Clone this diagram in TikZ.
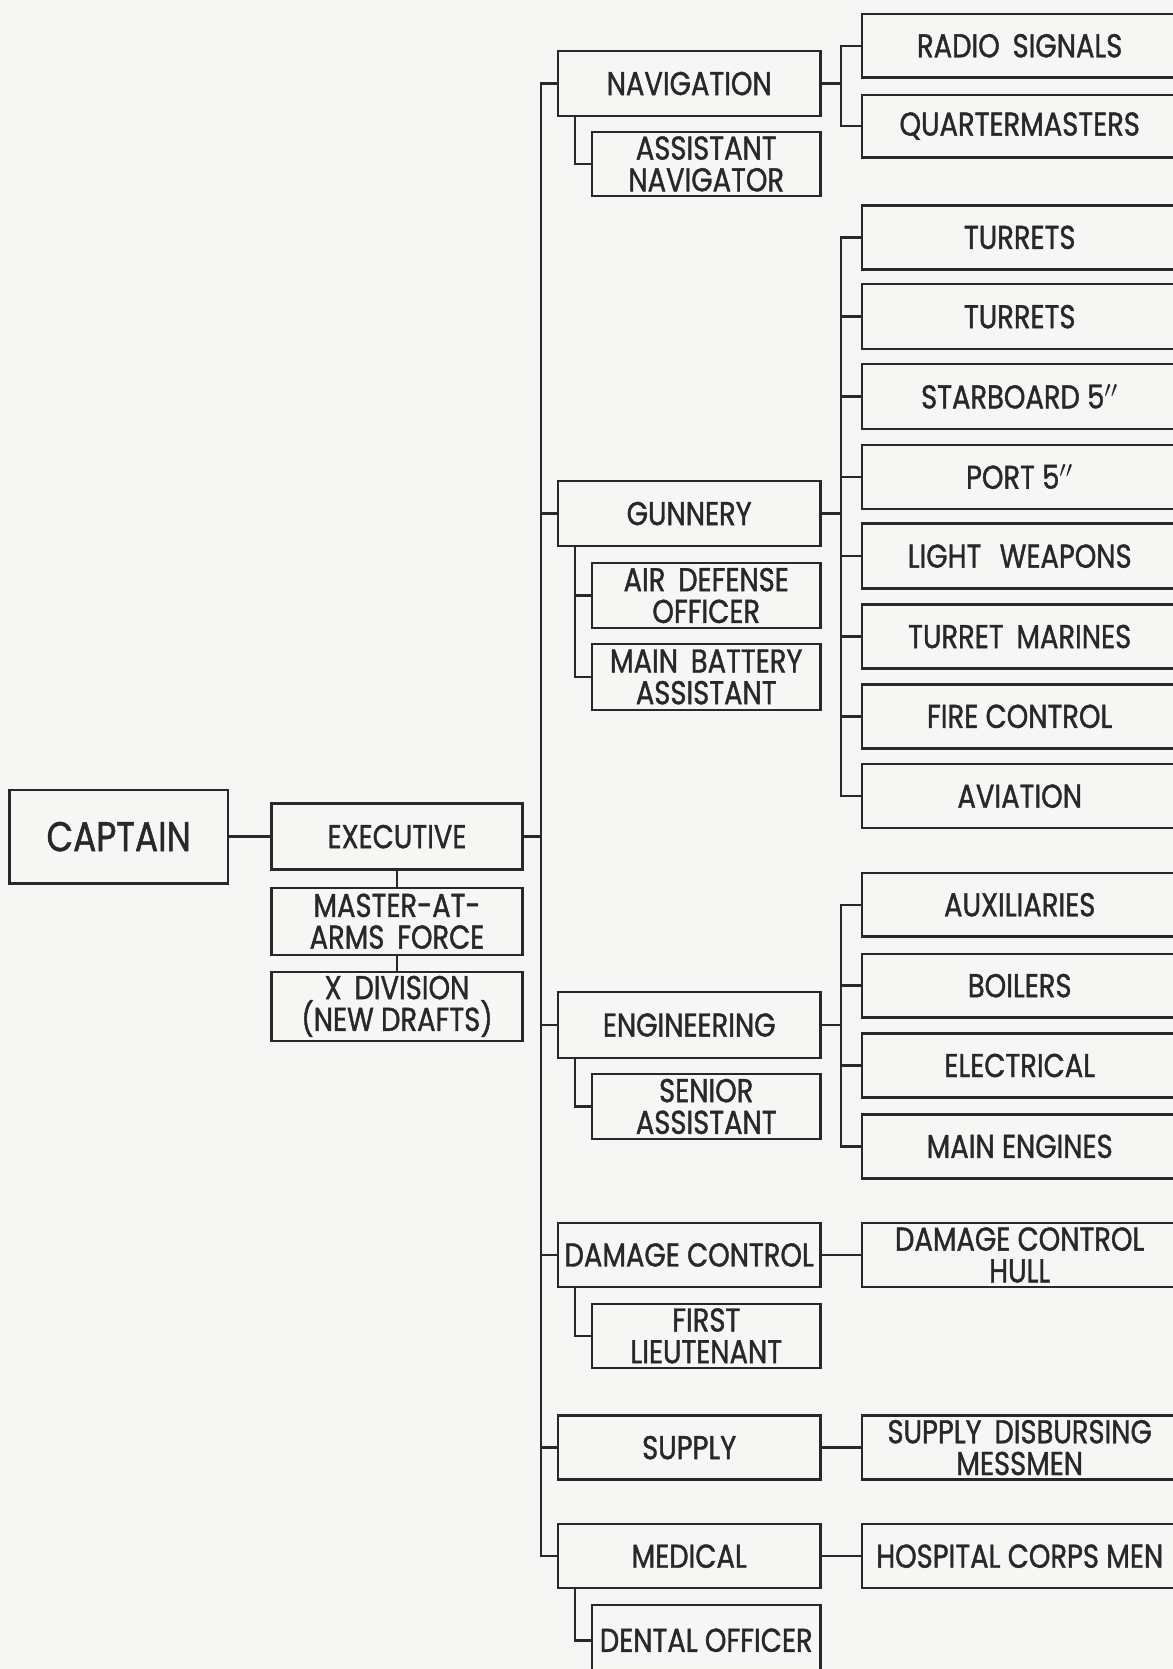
\documentclass[tikz,border=0pt]{standalone}
\usepackage{fontspec}
\setmainfont{Poppins}[FakeStretch=0.83,FakeBold=1.2]
\definecolor{ink}{RGB}{40,40,40}
\definecolor{paper}{RGB}{246,246,244}
\newcommand\bx[6]{\node[box, minimum width={(#4-#2)*0.5pt}, minimum height={(#5-#3)*0.5pt}] (#1) at ({(#2+#4)/2},{(#3+#5)/2}) {#6};}
\begin{document}
\begin{tikzpicture}[x=0.5pt,y=-0.5pt,
  box/.style={draw=ink, line width=1.15pt, inner sep=0pt, outer sep=0pt, align=center, text=ink, font=\fontsize{15.5}{14.9}\selectfont},
  conn/.style={draw=ink, line width=1.15pt}]
\useasboundingbox (0,0) rectangle (1102,1568);
\fill[paper] (0,0) rectangle (1102,1568);
\clip (0,0) rectangle (1102,1568);
% left column
\node[box, minimum width={205*0.5pt}, minimum height={88*0.5pt}, font=\fontsize{19.5}{20}\selectfont] (cap) at (111.5,786) {CAPTAIN};
\bx{exec}{255}{755}{491}{817}{EXECUTIVE}
\bx{maa}{255}{834}{491}{897}{MASTER-AT-\\ARMS\, FORCE}
\bx{xdiv}{255}{913}{491}{978}{X\, DIVISION\\(NEW DRAFTS)}
% departments
\bx{nav}{524}{48}{771}{109}{NAVIGATION}
\bx{gun}{524}{452}{771}{513}{GUNNERY}
\bx{eng}{524}{932}{771}{994}{ENGINEERING}
\bx{dmg}{524}{1149}{771}{1209}{DAMAGE CONTROL}
\bx{sup}{524}{1330}{771}{1390}{SUPPLY}
\bx{med}{524}{1432}{771}{1492}{MEDICAL}
% assistants
\bx{asnav}{556}{124}{771}{184}{ASSISTANT\\NAVIGATOR}
\bx{air}{556}{529}{771}{590}{AIR\, DEFENSE\\OFFICER}
\bx{mba}{556}{605}{771}{667}{MAIN\, BATTERY\\ASSISTANT}
\bx{sen}{556}{1009}{771}{1070}{SENIOR\\ASSISTANT}
\bx{first}{556}{1225}{771}{1285}{FIRST\\LIEUTENANT}
\bx{dental}{556}{1508}{771}{1574}{DENTAL OFFICER}
% divisions
\bx{radio}{810}{13}{1106}{73}{RADIO\, SIGNALS}
\bx{qm}{810}{89}{1106}{148}{QUARTERMASTERS}
\bx{tA}{810}{193}{1106}{253}{TURRETS}
\bx{tB}{810}{267}{1106}{328}{TURRETS}
\bx{stb}{810}{342}{1106}{403}{STARBOARD 5$''$}
\bx{port}{810}{418}{1106}{478}{PORT 5$''$}
\bx{light}{810}{492}{1106}{553}{LIGHT\,\, WEAPONS}
\bx{mar}{810}{568}{1106}{628}{TURRET\, MARINES}
\bx{fire}{810}{643}{1106}{703}{FIRE CONTROL}
\bx{avi}{810}{718}{1106}{778}{AVIATION}
\bx{aux}{810}{820}{1106}{880}{AUXILIARIES}
\bx{boil}{810}{896}{1106}{956}{BOILERS}
\bx{elec}{810}{971}{1106}{1031}{ELECTRICAL}
\bx{meng}{810}{1047}{1106}{1107}{MAIN ENGINES}
\bx{dch}{810}{1149}{1106}{1209}{DAMAGE CONTROL\\HULL}
\bx{sdm}{810}{1330}{1106}{1390}{SUPPLY\, DISBURSING\\MESSMEN}
\bx{hcm}{810}{1432}{1106}{1492}{HOSPITAL CORPS MEN}
% connectors: left
\draw[conn] (cap.east) -- (exec.west);
\draw[conn] (exec.south) -- (maa.north);
\draw[conn] (maa.south) -- (xdiv.north);
% main bus
\draw[conn] (exec.east) -- ++(17,0);
\draw[conn] (nav.west) -- ++(-16,0) |- (med.west);
\foreach \d in {gun,eng,dmg,sup} \draw[conn] (\d.west) -- ++(-16,0);
% assistants
\draw[conn] ([xshift=8pt]nav.south west) |- (asnav.west);
\draw[conn] ([xshift=8pt]gun.south west) |- (mba.west);
\draw[conn] (air.west) -- ++(-16,0);
\draw[conn] ([xshift=8pt]eng.south west) |- (sen.west);
\draw[conn] ([xshift=8pt]dmg.south west) |- (first.west);
\draw[conn] ([xshift=8pt]med.south west) |- (dental.west);
% right brackets
\draw[conn] (nav.east) -- ++(19,0);
\draw[conn] (radio.west) -- ++(-20,0) |- (qm.west);
\draw[conn] (gun.east) -- ++(19,0);
\draw[conn] (tA.west) -- ++(-20,0) |- (avi.west);
\foreach \d in {tB,stb,port,light,mar,fire} \draw[conn] (\d.west) -- ++(-20,0);
\draw[conn] (eng.east) -- ++(19,0);
\draw[conn] (aux.west) -- ++(-20,0) |- (meng.west);
\foreach \d in {boil,elec} \draw[conn] (\d.west) -- ++(-20,0);
\draw[conn] (dmg.east) -- (dch.west);
\draw[conn] (sup.east) -- (sdm.west);
\draw[conn] (med.east) -- (hcm.west);
\end{tikzpicture}
\end{document}
